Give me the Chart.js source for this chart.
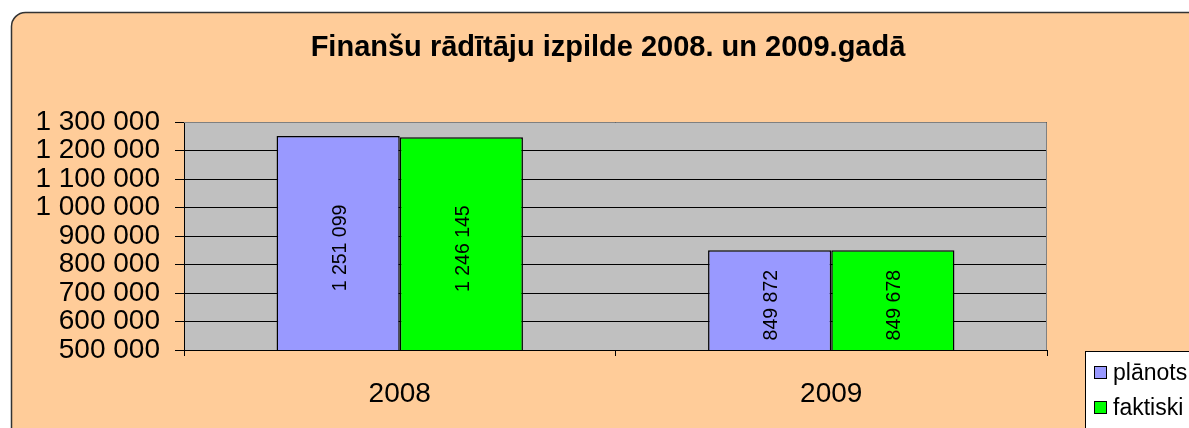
<!DOCTYPE html>
<html>
<head>
<meta charset="utf-8">
<script src="https://cdn.jsdelivr.net/npm/chart.js@4"></script>
<style>
html,body{margin:0;padding:0;background:#fff;}
#wrap{width:1189px;height:428px;position:relative;}
</style>
</head>
<body>
<div id="wrap"><canvas id="c" width="1189" height="428"></canvas></div>
<script>
const categories = ['2008', '2009'];
const seriesNames = ['plānots', 'faktiski'];
const planned = [1251099, 849872];
const actual = [1246145, 849678];
const yMin = 500000;
const yMax = 1300000;
const yStep = 100000;
const titleText = 'Finanšu rādītāju izpilde 2008. un 2009.gadā';

const FONT = "'Liberation Sans', Arial, sans-serif";
function fmt(v){ return String(v).replace(/\B(?=(\d{3})+(?!\d))/g, ' '); }

const bgPlugin = {
  id: 'bg',
  beforeDraw(chart){
    const ctx = chart.ctx;
    ctx.save();
    ctx.fillStyle = '#ffffff';
    ctx.fillRect(0,0,chart.width,chart.height);
    const x = 11.5, y = 12.5, w = 1188 - 11.5 + 14, h = 460, r = 14;
    ctx.beginPath();
    ctx.moveTo(x + r, y);
    ctx.lineTo(x + w - r, y);
    ctx.arcTo(x + w, y, x + w, y + r, r);
    ctx.lineTo(x + w, y + h);
    ctx.lineTo(x, y + h);
    ctx.lineTo(x, y + r);
    ctx.arcTo(x, y, x + r, y, r);
    ctx.closePath();
    ctx.fillStyle = '#FFCC99';
    ctx.fill();
    ctx.lineWidth = 1.5;
    ctx.strokeStyle = '#333333';
    ctx.stroke();
    const a = chart.chartArea;
    ctx.fillStyle = '#C0C0C0';
    ctx.fillRect(a.left, a.top, a.right - a.left, a.bottom - a.top);
    ctx.restore();
  },
  beforeDatasetsDraw(chart){
    const ctx = chart.ctx, a = chart.chartArea;
    ctx.save();
    ctx.strokeStyle = '#808080';
    ctx.lineWidth = 1;
    ctx.beginPath();
    ctx.moveTo(a.left, Math.round(a.top) + 0.5);
    ctx.lineTo(Math.round(a.right) - 0.5, Math.round(a.top) + 0.5);
    ctx.lineTo(Math.round(a.right) - 0.5, a.bottom);
    ctx.stroke();
    ctx.restore();
  }
};

const labelPlugin = {
  id: 'barLabels',
  afterDatasetsDraw(chart){
    const ctx = chart.ctx;
    const bottom = chart.chartArea.bottom;
    ctx.save();
    ctx.fillStyle = '#000';
    ctx.font = '19.5px ' + FONT;
    ctx.textAlign = 'center';
    ctx.textBaseline = 'middle';
    chart.data.datasets.forEach((ds, di) => {
      const meta = chart.getDatasetMeta(di);
      meta.data.forEach((bar, i) => {
        const base = Math.min(bar.base, bottom);
        const cy = (bar.y + base) / 2 + 5;
        ctx.save();
        ctx.translate(bar.x + 2, cy);
        ctx.rotate(-Math.PI / 2);
        ctx.fillText(fmt(ds.data[i]), 0, 0);
        ctx.restore();
      });
    });
    ctx.restore();
  }
};

const legendPlugin = {
  id: 'boxLegend',
  afterDraw(chart){
    const ctx = chart.ctx;
    ctx.save();
    ctx.fillStyle = '#ffffff';
    ctx.strokeStyle = '#000';
    ctx.lineWidth = 1;
    ctx.fillRect(1085.5, 351.5, 120, 100);
    ctx.strokeRect(1085.5, 351.5, 120, 100);
    ctx.font = '23px ' + FONT;
    ctx.textBaseline = 'middle';
    ctx.textAlign = 'left';
    const ys = [373, 408];
    chart.data.datasets.forEach((ds, i) => {
      const cy = ys[i];
      ctx.fillStyle = ds.backgroundColor;
      ctx.fillRect(1094.5, cy - 6.5, 12, 12);
      ctx.strokeStyle = '#000';
      ctx.strokeRect(1094.5, cy - 6.5, 12, 12);
      ctx.fillStyle = '#000';
      ctx.fillText(ds.label, 1113, cy + 1);
    });
    ctx.restore();
  }
};

new Chart(document.getElementById('c'), {
  type: 'bar',
  data: {
    labels: categories,
    datasets: [
      { label: seriesNames[0], data: planned, backgroundColor: '#9999FF', borderColor: '#000', borderWidth: 1.5, borderSkipped: false, yAxisID: 'y' },
      { label: seriesNames[1], data: actual, backgroundColor: '#00FF00', borderColor: '#000', borderWidth: 1.5, borderSkipped: false, yAxisID: 'y' }
    ]
  },
  options: {
    responsive: false,
    animation: false,
    devicePixelRatio: 1,
    datasets: { bar: { categoryPercentage: 0.571, barPercentage: 1.0 } },
    layout: { padding: { left: 27, right: 0, top: 0, bottom: 0 } },
    plugins: {
      legend: { display: false },
      tooltip: { enabled: false },
      title: {
        display: true,
        text: titleText,
        color: '#000',
        font: { family: FONT, size: 29, weight: 'bold', lineHeight: 1.2 },
        padding: { top: 30.6, bottom: 56.6 }
      }
    },
    scales: {
      x: {
        grid: { offset: true, drawOnChartArea: false, color: '#000', tickLength: 6, lineWidth: 1 },
        border: { color: '#000', width: 1 },
        ticks: { color: '#000', font: { family: FONT, size: 28 }, padding: 21, maxRotation: 0 },
        afterFit(s){ s.height = 78; }
      },
      y: {
        position: 'left',
        min: yMin, max: yMax,
        grid: { color: '#000', tickLength: 9, lineWidth: 1 },
        border: { color: '#000', width: 1 },
        ticks: { stepSize: yStep, autoSkip: false, color: '#000', font: { family: FONT, size: 28, lineHeight: 1 }, padding: 15, callback: v => fmt(v) },
        afterFit(s){ s.width = 157; }
      },
      yRight: {
        position: 'right',
        display: true,
        min: yMin, max: yMax,
        grid: { display: false, drawOnChartArea: false, drawTicks: false },
        border: { display: false },
        ticks: { display: false },
        afterFit(s){ s.width = 142; }
      }
    }
  },
  plugins: [bgPlugin, labelPlugin, legendPlugin]
});
</script>
</body>
</html>
